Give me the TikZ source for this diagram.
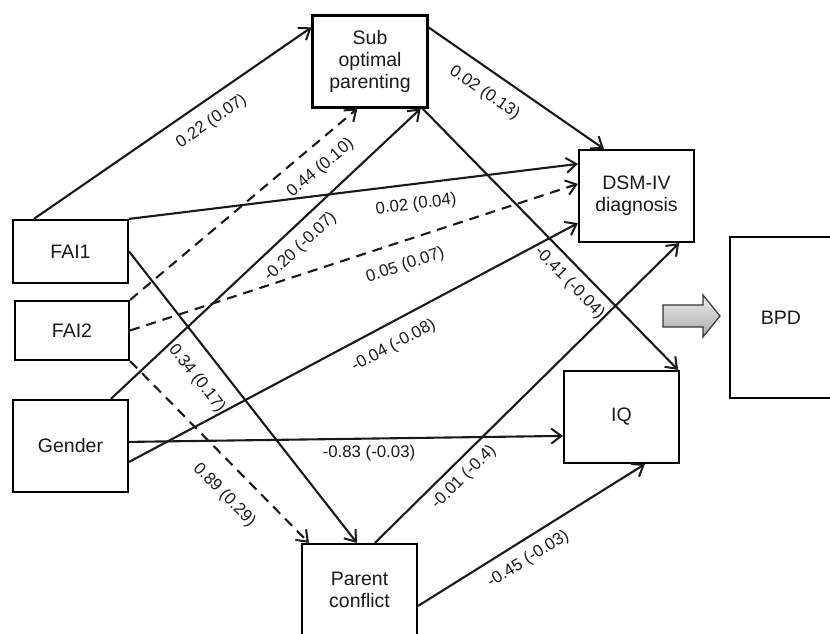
\documentclass[tikz,border=0pt]{standalone}
\usepackage{fontspec}
\setmainfont{Liberation Sans}
\usetikzlibrary{arrows.meta,calc}
\begin{document}
\begin{tikzpicture}[x=1pt,y=-1pt,
  box/.style={draw=black, line width=2.2pt, minimum width=115pt, minimum height=92pt, align=center, inner sep=2pt, text=black!90, font=\fontsize{19.5}{22}\selectfont},
  conn/.style={line width=2.1pt, draw=black!90, -{Straight Barb[length=10pt,width=15pt,line width=2pt]}},
  dashconn/.style={conn, dash pattern=on 10pt off 7pt},
  lbl/.style={font=\fontsize{16.8}{18}\selectfont, text=black!90, sloped, anchor=north, inner xsep=0pt},
  lblh/.style={font=\fontsize{16.8}{18}\selectfont, text=black!90, anchor=north, inner xsep=0pt}
]
\useasboundingbox (0,0) rectangle (830,633);

\node[box] (sub) at (370,61.5) {Sub\\optimal\\parenting};
\node[box, minimum height=63pt] (fai1) at (70.5,251.5) {FAI1};
\node[box, minimum width=114pt, minimum height=59pt] (fai2) at (72,330.5) {FAI2};
\node[box] (gender) at (70.5,446) {Gender};
\node[box] (pc) at (359.5,590) {Parent\\conflict};
\node[box] (dsm) at (636.5,196) {DSM-IV\\diagnosis};
\node[box] (iq) at (621.5,417) {IQ};
\node[box, minimum width=102pt, minimum height=161pt] (bpd) at (781,317.5) {BPD};

\draw[conn] ($(fai1.north west)+(22,0)$) -- ($(sub.north west)+(0,13)$) node[lbl,pos=0.598,inner ysep=12pt]{0.22 (0.07)};
\draw[dashconn] (fai2.north east) -- ($(sub.south west)+(46,0)$) node[lbl,pos=0.776,inner ysep=13pt]{0.44 (0.10)};
\draw[conn] ($(gender.north west)+(99,0)$) -- ($(sub.south east)+(-8,0)$) node[lbl,pos=0.570,inner ysep=10pt]{-0.20 (-0.07)};
\draw[conn] (fai1.north east) -- ($(dsm.north west)+(0,15)$) node[lbl,pos=0.634,inner ysep=12pt]{0.02 (0.04)};
\draw[dashconn] (fai2.east) -- ($(dsm.north west)+(0,35)$) node[lbl,pos=0.598,inner ysep=15pt]{0.05 (0.07)};
\draw[conn] ($(gender.north east)+(0,63)$) -- ($(dsm.south west)+(0,-20)$) node[lbl,pos=0.567,inner ysep=13pt]{-0.04 (-0.08)};
\draw[conn] ($(gender.north east)+(0,43)$) -- ($(iq.north west)+(0,66)$) node[lblh,pos=0.553,inner ysep=6pt]{-0.83 (-0.03)};
\draw[conn] (fai1.east) -- ($(pc.north west)+(56,0)$) node[lbl,pos=0.383,inner ysep=16pt]{0.34 (0.17)};
\draw[dashconn] (fai2.south east) -- ($(pc.north west)+(8,0)$) node[lbl,pos=0.634,inner ysep=18pt]{0.89 (0.29)};
\draw[conn] ($(sub.north east)+(0,13)$) -- ($(dsm.north west)+(26,0)$) node[lbl,pos=0.390,inner ysep=13pt]{0.02 (0.13)};
\draw[conn] ($(sub.south east)+(-6,0)$) -- ($(iq.north east)+(-2,0)$) node[lbl,pos=0.622,inner ysep=8pt]{-0.41 (-0.04)};
\draw[conn] ($(pc.north west)+(74,0)$) -- ($(dsm.south east)+(-16,0)$) node[lbl,pos=0.256,inner ysep=7pt]{-0.01 (-0.4)};
\draw[conn] ($(pc.north east)+(0,63)$) -- ($(iq.south west)+(82,0)$) node[lbl,pos=0.442,inner ysep=10pt]{-0.45 (-0.03)};

\shade[top color=gray!15, bottom color=gray!65, draw=black!80, line width=1.2pt]
  (663,305) -- (703,305) -- (703,295) -- (720,316) -- (703,337) -- (703,327) -- (663,327) -- cycle;
\end{tikzpicture}
\end{document}
